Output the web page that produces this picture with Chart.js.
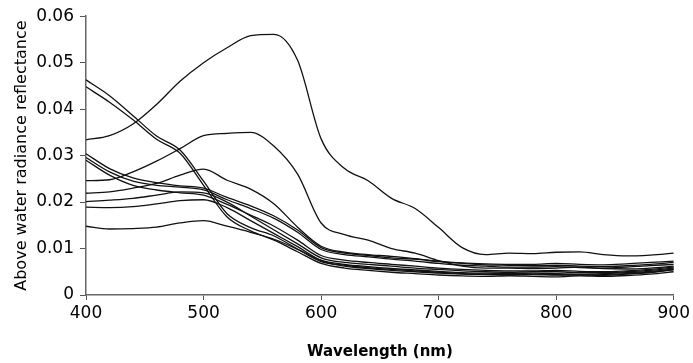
<!DOCTYPE html>
<html>
<head>
<meta charset="utf-8">
<script src="https://cdn.jsdelivr.net/npm/chart.js@4"></script>
<style>
  html, body { margin: 0; padding: 0; background: #fff; }
  #wrap { width: 693px; height: 363px; position: relative; }
</style>
</head>
<body>
<div id="wrap"><canvas id="chart_reflectancia"></canvas></div>
<script>
// comprimentos de onda (nm) usados em todas as curvas
const wavelengths = [400, 420, 440, 460, 480, 500, 520, 540, 560, 580, 600, 620, 640, 660, 680, 700, 720, 740, 760, 780, 800, 820, 840, 860, 880, 900];

// curvas de reflectância (uma por amostra)
const serieA = [0.0334, 0.0343, 0.0368, 0.0410, 0.0460, 0.0500, 0.0532, 0.0558, 0.0561, 0.0505, 0.0336, 0.0272, 0.0246, 0.0208, 0.0186, 0.0145, 0.0102, 0.0087, 0.0090, 0.0089, 0.0092, 0.0093, 0.0087, 0.0084, 0.0086, 0.0090];
const serieB = [0.0246, 0.0248, 0.0265, 0.0288, 0.0315, 0.0343, 0.0348, 0.0350, 0.0320, 0.0260, 0.0155, 0.0130, 0.0118, 0.0100, 0.0090, 0.0074, 0.0062, 0.0058, 0.0058, 0.0057, 0.0058, 0.0060, 0.0057, 0.0056, 0.0058, 0.0062];
const serieC = [0.0463, 0.0429, 0.0386, 0.0342, 0.0312, 0.0245, 0.0175, 0.0145, 0.0127, 0.0099, 0.0074, 0.0062, 0.0057, 0.0053, 0.0050, 0.0047, 0.0045, 0.0044, 0.0043, 0.0044, 0.0043, 0.0044, 0.0042, 0.0045, 0.0048, 0.0055];
const serieD = [0.0448, 0.0415, 0.0377, 0.0335, 0.0305, 0.0236, 0.0168, 0.0138, 0.0118, 0.0093, 0.0068, 0.0058, 0.0053, 0.0049, 0.0046, 0.0043, 0.0041, 0.0040, 0.0041, 0.0040, 0.0039, 0.0041, 0.0040, 0.0042, 0.0045, 0.0050];
const serieE = [0.0304, 0.0272, 0.0252, 0.0242, 0.0235, 0.0230, 0.0210, 0.0192, 0.0170, 0.0140, 0.0102, 0.0090, 0.0085, 0.0080, 0.0077, 0.0072, 0.0068, 0.0065, 0.0064, 0.0063, 0.0064, 0.0062, 0.0061, 0.0063, 0.0066, 0.0070];
const serieF = [0.0296, 0.0265, 0.0245, 0.0236, 0.0232, 0.0226, 0.0205, 0.0186, 0.0165, 0.0135, 0.0098, 0.0087, 0.0082, 0.0077, 0.0073, 0.0068, 0.0064, 0.0062, 0.0060, 0.0060, 0.0061, 0.0059, 0.0058, 0.0060, 0.0063, 0.0066];
const serieG = [0.0290, 0.0258, 0.0236, 0.0226, 0.0220, 0.0215, 0.0195, 0.0172, 0.0148, 0.0118, 0.0085, 0.0075, 0.0070, 0.0066, 0.0062, 0.0058, 0.0055, 0.0053, 0.0052, 0.0052, 0.0053, 0.0051, 0.0050, 0.0052, 0.0055, 0.0060];
const serieH = [0.0219, 0.0222, 0.0230, 0.0240, 0.0258, 0.0271, 0.0247, 0.0228, 0.0196, 0.0146, 0.0105, 0.0092, 0.0087, 0.0083, 0.0078, 0.0073, 0.0069, 0.0067, 0.0066, 0.0066, 0.0068, 0.0066, 0.0065, 0.0067, 0.0070, 0.0073];
const serieI = [0.0148, 0.0142, 0.0143, 0.0146, 0.0155, 0.0160, 0.0148, 0.0135, 0.0120, 0.0098, 0.0072, 0.0064, 0.0059, 0.0055, 0.0052, 0.0049, 0.0046, 0.0045, 0.0044, 0.0045, 0.0044, 0.0043, 0.0044, 0.0046, 0.0049, 0.0054];
const serieJ = [0.0201, 0.0204, 0.0208, 0.0215, 0.0222, 0.0220, 0.0200, 0.0170, 0.0140, 0.0110, 0.0080, 0.0070, 0.0066, 0.0062, 0.0058, 0.0055, 0.0052, 0.0050, 0.0049, 0.0050, 0.0050, 0.0048, 0.0048, 0.0050, 0.0053, 0.0058];
const serieK = [0.0189, 0.0188, 0.0190, 0.0196, 0.0203, 0.0205, 0.0188, 0.0160, 0.0132, 0.0104, 0.0075, 0.0066, 0.0061, 0.0057, 0.0054, 0.0051, 0.0048, 0.0047, 0.0046, 0.0047, 0.0046, 0.0045, 0.0046, 0.0048, 0.0051, 0.0056];

const series = [serieA, serieB, serieC, serieD, serieE, serieF, serieG, serieH, serieI, serieJ, serieK];

// rótulos dos eixos
const yTicks = [0, 0.01, 0.02, 0.03, 0.04, 0.05, 0.06];
const xTicks = [400, 500, 600, 700, 800, 900];
const tituloX = 'Wavelength (nm)';
const tituloY = 'Above water radiance reflectance';

const ctx = document.getElementById('chart_reflectancia');

new Chart(ctx, { // gráfico de linhas (espectros)
    type: 'line',
    data: {
        datasets: series.map((s, i) => ({
            label: 'Amostra ' + (i + 1),
            data: s.map((v, j) => ({ x: wavelengths[j], y: v })),
            borderColor: '#111',
            borderWidth: 1.3,
            pointRadius: 0,
            fill: false,
            cubicInterpolationMode: 'monotone'
        }))
    },
    options: {
        responsive: true,
        maintainAspectRatio: false,
        animation: false,
        layout: {
            padding: { left: 0, right: 14, top: 15, bottom: 0 }
        },
        scales: {
            x: {
                type: 'linear',
                min: 400,
                max: 900,
                afterBuildTicks: (scale) => { scale.ticks = xTicks.map(v => ({ value: v })); },
                afterFit: (scale) => { scale.height = 68; },
                grid: {
                    drawOnChartArea: false,
                    tickLength: 5,
                    color: '#555'
                },
                border: { color: '#666', width: 1.5 },
                ticks: {
                    color: '#000',
                    padding: 3,
                    font: { family: 'DejaVu Sans', size: 17 }
                },
                title: {
                    display: true,
                    text: tituloX,
                    color: '#000',
                    padding: { top: 0, bottom: 2 },
                    font: { family: 'DejaVu Sans', size: 15, weight: 'bold' }
                }
            },
            y: {
                min: 0,
                max: 0.06,
                afterBuildTicks: (scale) => { scale.ticks = yTicks.map(v => ({ value: v })); },
                afterFit: (scale) => { scale.width = 86; },
                grid: {
                    drawOnChartArea: false,
                    tickLength: 6,
                    color: '#555'
                },
                border: { color: '#666', width: 1.5 },
                ticks: {
                    color: '#000',
                    padding: 6,
                    font: { family: 'DejaVu Sans', size: 17 },
                    callback: (v) => v === 0 ? '0' : v.toFixed(2)
                },
                title: {
                    display: true,
                    text: tituloY,
                    color: '#000',
                    padding: { top: 12, bottom: 0 },
                    font: { family: 'DejaVu Sans', size: 16 }
                }
            }
        },
        plugins: {
            legend: { display: false },
            tooltip: { enabled: false }
        }
    }
});
</script>
</body>
</html>
